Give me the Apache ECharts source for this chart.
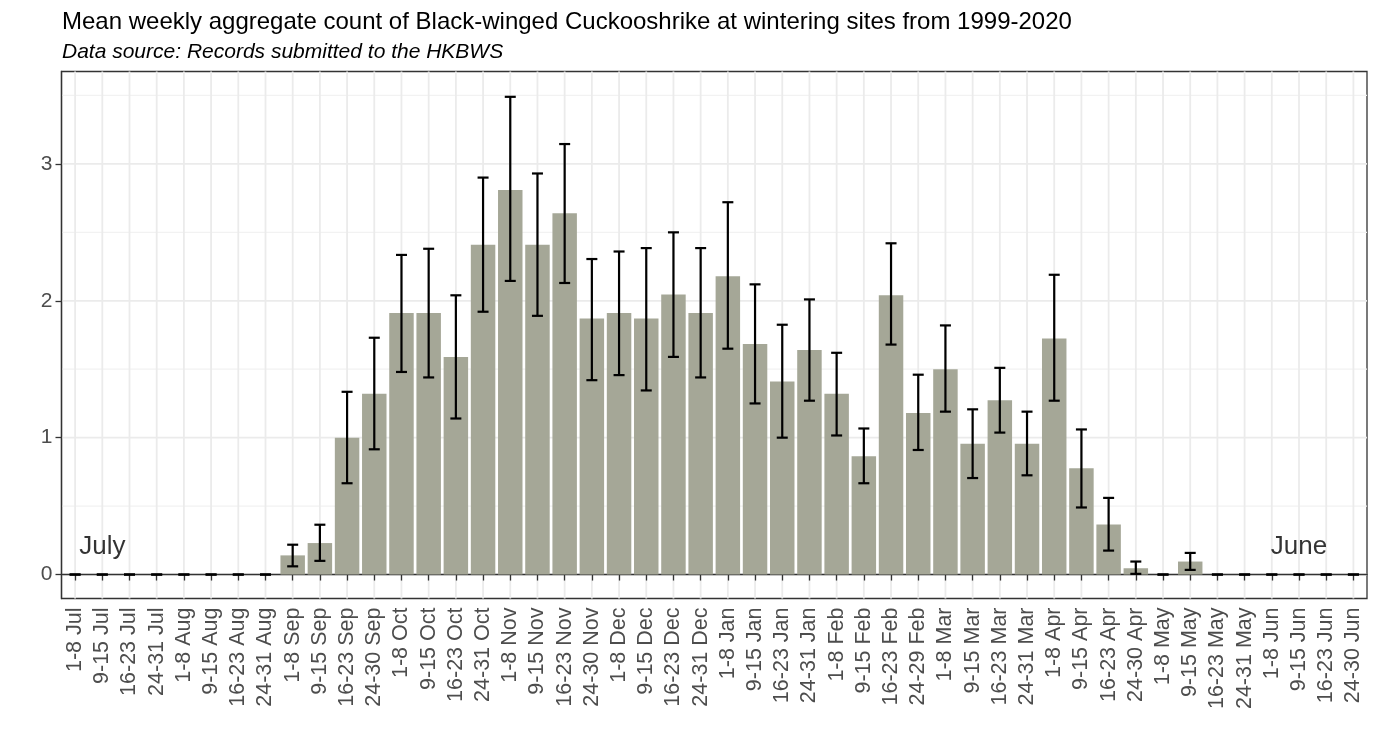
<!DOCTYPE html>
<html>
<head>
<meta charset="utf-8">
<script src="https://cdn.jsdelivr.net/npm/echarts@6/dist/echarts.min.js"></script>
<style>
html,body{margin:0;padding:0;background:#fff;}
#chart{width:1377px;height:752px;}
</style>
</head>
<body>
<div id="chart"></div>
<script>
const categories = [
  '1-8 Jul','9-15 Jul','16-23 Jul','24-31 Jul',
  '1-8 Aug','9-15 Aug','16-23 Aug','24-31 Aug',
  '1-8 Sep','9-15 Sep','16-23 Sep','24-30 Sep',
  '1-8 Oct','9-15 Oct','16-23 Oct','24-31 Oct',
  '1-8 Nov','9-15 Nov','16-23 Nov','24-30 Nov',
  '1-8 Dec','9-15 Dec','16-23 Dec','24-31 Dec',
  '1-8 Jan','9-15 Jan','16-23 Jan','24-31 Jan',
  '1-8 Feb','9-15 Feb','16-23 Feb','24-29 Feb',
  '1-8 Mar','9-15 Mar','16-23 Mar','24-31 Mar',
  '1-8 Apr','9-15 Apr','16-23 Apr','24-30 Apr',
  '1-8 May','9-15 May','16-23 May','24-31 May',
  '1-8 Jun','9-15 Jun','16-23 Jun','24-30 Jun'
];
const meanCount = [
  0,0,0,0, 0,0,0,0,
  0.14,0.23,1.00,1.32,
  1.91,1.91,1.59,2.41,
  2.81,2.41,2.64,1.87,
  1.91,1.87,2.045,1.91,
  2.18,1.685,1.41,1.64,
  1.32,0.865,2.04,1.18,
  1.50,0.955,1.273,0.955,
  1.725,0.776,0.366,0.046,
  0,0.095,0,0, 0,0,0,0
];
const errLow = [
  0,0,0,0, 0,0,0,0,
  0.06,0.10,0.667,0.915,
  1.48,1.44,1.14,1.92,
  2.145,1.89,2.13,1.42,
  1.457,1.345,1.59,1.44,
  1.65,1.25,1.00,1.27,
  1.016,0.667,1.68,0.91,
  1.19,0.705,1.037,0.725,
  1.27,0.49,0.175,0.005,
  0,0.034,0,0, 0,0,0,0
];
const errHigh = [
  0,0,0,0, 0,0,0,0,
  0.218,0.364,1.335,1.73,
  2.335,2.38,2.04,2.90,
  3.49,2.93,3.145,2.305,
  2.36,2.385,2.50,2.385,
  2.72,2.12,1.825,2.01,
  1.62,1.067,2.42,1.46,
  1.82,1.207,1.51,1.19,
  2.19,1.06,0.56,0.095,
  0,0.158,0,0, 0,0,0,0
];
const yTickValues = [0, 1, 2, 3];
const yMinorValues = [0.5, 1.5, 2.5, 3.5];
const annoLabels = ['July', 'June'];
const annoCategories = ['9-15 Jul', '9-15 Jun'];
const annoY = [0.2, 0.2];
const titleText = 'Mean weekly aggregate count of Black-winged Cuckooshrike at wintering sites from 1999-2020';
const subtitleText = 'Data source: Records submitted to the HKBWS';

const FONT = '"Liberation Sans", Arial, sans-serif';
const chart = echarts.init(document.getElementById('chart'), null, {renderer: 'canvas'});

const vGridData = categories.map((c, i) => [i, 0]);
const hGridData = yTickValues.map(v => [0, v, 1]).concat(yMinorValues.map(v => [0, v, 0]));
const errData = categories.map((c, i) => [i, errLow[i], errHigh[i]]);
const annoData = annoLabels.map((t, i) => ({name: t, value: [annoCategories[i], annoY[i]]}));

const option = {
  backgroundColor: '#ffffff',
  animation: false,
  title: [
    {text: titleText, left: 62, top: 10, padding: 0,
     textStyle: {fontFamily: FONT, fontSize: 24, fontWeight: 'normal', color: '#000'}},
    {text: subtitleText, left: 62, top: 42, padding: 0,
     textStyle: {fontFamily: FONT, fontSize: 21, fontWeight: 'normal', fontStyle: 'italic', color: '#000'}}
  ],
  grid: {left: 61.5, right: 10, top: 71.5, bottom: 153.5, show: true,
         borderColor: '#333333', borderWidth: 1.3, backgroundColor: 'transparent'},
  xAxis: {
    type: 'category', data: categories,
    axisLine: {show: true, lineStyle: {color: '#333333', width: 1.3}},
    axisTick: {show: true, alignWithLabel: true, length: 6, lineStyle: {color: '#333333', width: 1.3}},
    axisLabel: {rotate: 90, interval: 0, margin: 9, fontFamily: FONT, fontSize: 21.5, color: '#4d4d4d'},
    splitLine: {show: false}
  },
  yAxis: {
    type: 'value', min: -0.175, max: 3.675,
    axisLine: {show: true, lineStyle: {color: '#333333', width: 1.3}},
    axisTick: {show: true, length: 6, customValues: yTickValues, lineStyle: {color: '#333333', width: 1.3}},
    axisLabel: {customValues: yTickValues, margin: 9, fontFamily: FONT, fontSize: 21, color: '#4d4d4d'},
    splitLine: {show: false}
  },
  series: [
    {
      type: 'custom', name: 'hgrid', z: 0, silent: true,
      data: hGridData,
      renderItem: function (params, api) {
        const cs = params.coordSys;
        const y = api.coord([0, api.value(1)])[1];
        const major = api.value(2) === 1;
        return {type: 'line', shape: {x1: cs.x, y1: y, x2: cs.x + cs.width, y2: y},
                style: {stroke: major ? '#ebebeb' : '#f2f2f2', lineWidth: major ? 1.8 : 1.2}};
      }
    },
    {
      type: 'custom', name: 'vgrid', z: 0, silent: true,
      data: vGridData,
      renderItem: function (params, api) {
        const cs = params.coordSys;
        const x = api.coord([api.value(0), 0])[0];
        return {type: 'line', shape: {x1: x, y1: cs.y, x2: x, y2: cs.y + cs.height},
                style: {stroke: '#ebebeb', lineWidth: 1.8}};
      }
    },
    {
      type: 'bar', name: 'mean', z: 2,
      data: meanCount,
      barCategoryGap: '10%',
      itemStyle: {color: '#a5a797'}
    },
    {
      type: 'custom', name: 'err', z: 3,
      data: errData,
      renderItem: function (params, api) {
        const i = api.value(0);
        const lo = api.coord([i, api.value(1)]);
        const hi = api.coord([i, api.value(2)]);
        const hw = 5.5;
        const st = {stroke: '#000', lineWidth: 2.2};
        return {type: 'group', children: [
          {type: 'line', shape: {x1: hi[0], y1: hi[1], x2: lo[0], y2: lo[1]}, style: st},
          {type: 'line', shape: {x1: hi[0] - hw, y1: hi[1], x2: hi[0] + hw, y2: hi[1]}, style: st},
          {type: 'line', shape: {x1: lo[0] - hw, y1: lo[1], x2: lo[0] + hw, y2: lo[1]}, style: st}
        ]};
      }
    },
    {
      type: 'scatter', name: 'anno', z: 4, symbolSize: 0, silent: true,
      data: annoData,
      label: {show: true, position: 'inside', formatter: '{b}',
              fontFamily: FONT, fontSize: 26, color: '#000'}
    }
  ]
};
chart.setOption(option);
</script>
</body>
</html>
